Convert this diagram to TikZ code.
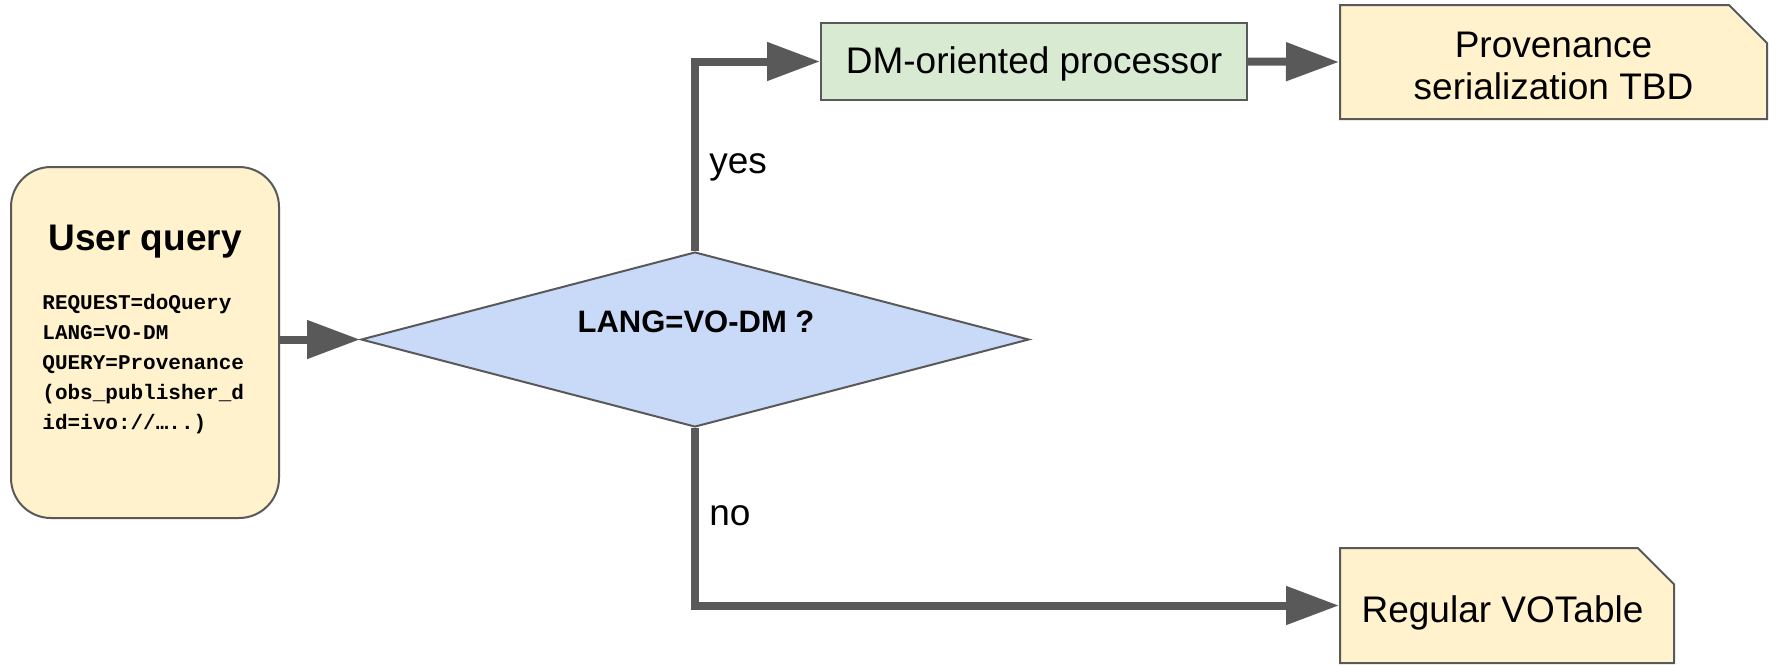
\documentclass[tikz,border=0pt]{standalone}
\usepackage{fontspec}
\setmainfont{Liberation Sans}
\setmonofont{Liberation Mono}
\usetikzlibrary{arrows.meta,shapes.geometric,shapes.misc}
\definecolor{qfill}{HTML}{FFF2CC}
\definecolor{gfill}{HTML}{D9EAD3}
\definecolor{bfill}{HTML}{C9DAF8}
\definecolor{edgegray}{HTML}{595959}
\definecolor{arrgray}{HTML}{595959}
\begin{document}
\begin{tikzpicture}[x=0.5pt,y=-0.5pt,
  box/.style={draw=edgegray,line width=1pt,inner sep=0pt},
  cutbox/.style={box,chamfered rectangle,chamfered rectangle corners=north east,
    chamfered rectangle xsep=9.5pt,chamfered rectangle ysep=9.5pt,
    font=\fontsize{18.5}{21}\selectfont,align=center},
  txt/.style={font=\fontsize{18.5}{21}\selectfont,inner sep=0pt,align=center},
  flow/.style={draw=arrgray,line width=4pt,-{Triangle[length=26.5pt,width=18.5pt]}},
  lbl/.style={font=\fontsize{18.5}{21}\selectfont,inner sep=0pt,anchor=base west}]
\useasboundingbox (0,0) rectangle (1770,664);
% user query box
\node[box,fill=qfill,rounded corners=20pt,minimum width=134pt,minimum height=175.5pt] (uq) at (145,342.5) {};
\node[font=\bfseries\fontsize{18.5}{21}\selectfont,anchor=base,inner sep=0pt] (uqtitle) at (145,250) {User query};
\node[font=\ttfamily\bfseries\fontsize{10.5}{15}\selectfont,align=left,anchor=north west,inner sep=0pt] (uqcode) at (42,294)
  {REQUEST=doQuery\\LANG=VO-DM\\QUERY=Provenance\\(obs\_publisher\_d\\id=ivo://…..)};
% decision
\node[diamond,draw=edgegray,line width=1pt,fill=bfill,minimum width=334pt,minimum height=87.5pt,inner sep=0pt] (dec) at (695,339.5) {};
\node[font=\bfseries\fontsize{15.5}{18}\selectfont,inner sep=0pt] (dectext) at (696,322) {LANG=VO-DM ?};
% boxes
\node[box,fill=gfill,minimum width=213pt,minimum height=38.5pt] (dm) at (1034,61.5) {};
\node[txt] (dmtext) at (1034,64) {DM-oriented processor};
\node[cutbox,fill=qfill,minimum width=213.5pt,minimum height=57pt] (prov) at (1553.5,62) {\phantom{Provenance}\\\phantom{serialization TBD}};
\node[txt] (provtext) at (1553.5,66) {Provenance\\serialization TBD};
\node[cutbox,fill=qfill,minimum width=167pt,minimum height=57.5pt] (vot) at (1507,605.5) {\phantom{Regular VOTable}};
\node[txt] (vottext) at (1502.5,613) {Regular VOTable};
% connectors
\draw[flow] (uq.east |- dec.west) -- (dec.west);
\draw[flow] (dec.north) |- (dm.west);
\draw[flow] (dm.east) -- (prov.west);
\draw[flow] (dec.south) |- (vot.west);
% labels
\node[lbl] (yes) at (709,173) {yes};
\node[lbl] (no) at (709,525) {no};
\end{tikzpicture}
\end{document}
